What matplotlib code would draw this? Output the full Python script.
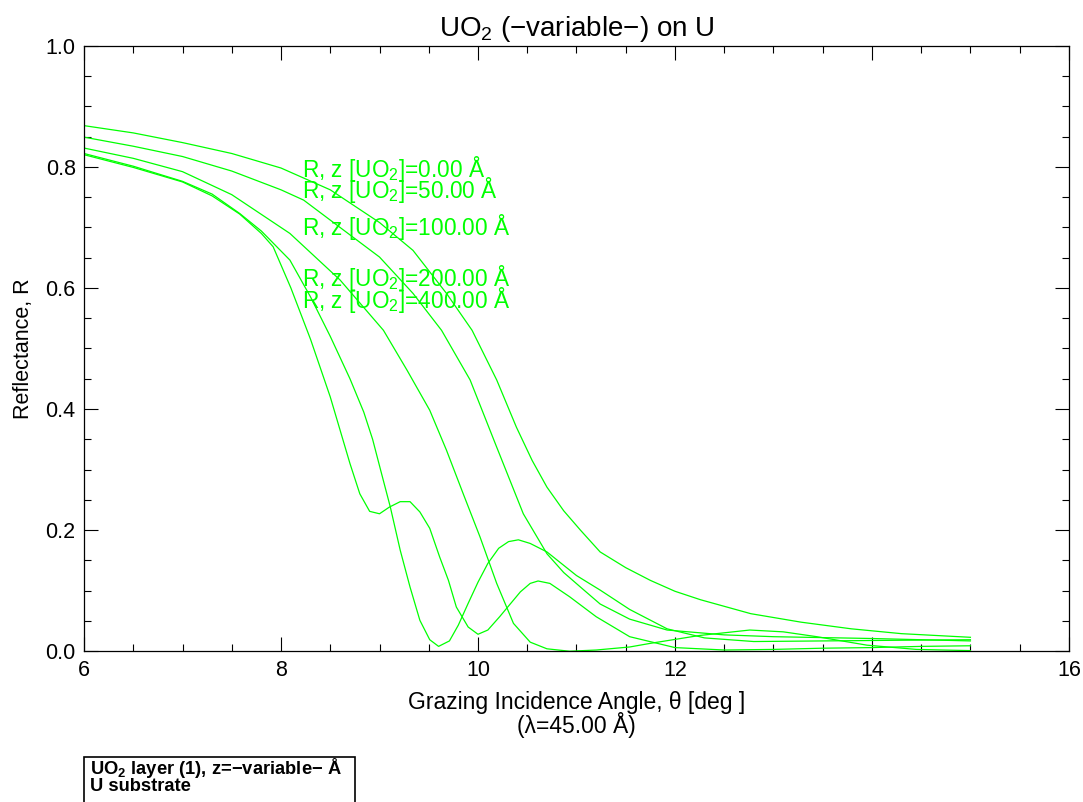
import matplotlib
matplotlib.use("Agg")
import matplotlib.pyplot as plt
from matplotlib.ticker import MultipleLocator, FormatStrFormatter
from matplotlib.patches import Rectangle

plt.rcParams['font.family'] = ['Liberation Sans', 'DejaVu Sans']
plt.rcParams['mathtext.fontset'] = 'custom'
plt.rcParams['mathtext.rm'] = 'Liberation Sans'
plt.rcParams['mathtext.bf'] = 'Liberation Sans:bold'

# reflectance curves (angle in deg, R)
x_z0 = [6.0, 6.5, 7.0, 7.5, 8.0, 8.5, 9.0, 9.34, 9.68, 9.94, 10.19, 10.39, 10.55, 10.7,
        10.87, 11.04, 11.24, 11.5, 11.75, 12.0, 12.26, 12.77, 13.28, 13.79, 14.3, 15.0]
r_z0 = [0.868, 0.856, 0.84, 0.822, 0.798, 0.762, 0.708, 0.662, 0.591, 0.53, 0.448, 0.37, 0.315, 0.271,
        0.232, 0.2, 0.164, 0.138, 0.117, 0.099, 0.085, 0.062, 0.048, 0.037, 0.029, 0.023]

x_z50 = [6.0, 6.5, 7.0, 7.5, 8.0, 8.23, 8.5, 9.0, 9.34, 9.63, 9.92, 10.19, 10.46, 10.7,
         10.87, 11.04, 11.24, 11.54, 11.92, 12.5, 13.0, 14.0, 15.0]
r_z50 = [0.849, 0.834, 0.817, 0.793, 0.762, 0.745, 0.712, 0.651, 0.591, 0.53, 0.448, 0.337, 0.227, 0.161,
         0.13, 0.106, 0.078, 0.053, 0.035, 0.027, 0.024, 0.021, 0.017]

x_z100 = [6.0, 6.5, 7.0, 7.5, 8.09, 8.6, 9.04, 9.28, 9.51, 9.68, 9.85, 10.02, 10.19,
          10.36, 10.53, 10.7, 10.93, 11.2, 11.54, 11.75, 12.25, 12.76, 13.1, 13.44,
          13.95, 14.45, 15.0]
r_z100 = [0.831, 0.814, 0.792, 0.754, 0.69, 0.613, 0.53, 0.464, 0.398, 0.332, 0.26, 0.189, 0.112,
          0.046, 0.015, 0.004, 0.0, 0.002, 0.007, 0.013, 0.026, 0.035, 0.032, 0.024,
          0.01, 0.003, 0.001]

x_z200 = [6.0, 6.5, 7.0, 7.3, 7.58, 7.8, 8.09, 8.3, 8.5, 8.7, 8.84, 8.93, 9.01, 9.11, 9.21, 9.31, 9.41,
          9.51, 9.6, 9.71, 9.8, 9.9, 10.0, 10.1, 10.21, 10.31, 10.41, 10.53, 10.7,
          11.0, 11.24, 11.54, 11.92, 12.3, 12.8, 13.5, 14.2, 15.0]
r_z200 = [0.822, 0.801, 0.776, 0.755, 0.723, 0.694, 0.646, 0.585, 0.52, 0.45, 0.395, 0.35, 0.30, 0.238,
          0.167, 0.106, 0.051,
          0.019, 0.008, 0.017, 0.043, 0.079, 0.114, 0.145, 0.17, 0.181, 0.184, 0.178, 0.164,
          0.125, 0.101, 0.069, 0.037, 0.022, 0.016, 0.017, 0.018, 0.019]

x_z400 = [6.0, 6.5, 7.0, 7.3, 7.58, 7.8, 7.92, 8.1, 8.3, 8.5, 8.6, 8.7, 8.8, 8.9, 9.0, 9.1, 9.21,
          9.31, 9.41, 9.51, 9.61, 9.7, 9.78, 9.9, 10.0, 10.1, 10.22, 10.43, 10.53, 10.61,
          10.73, 10.93, 11.2, 11.54, 12.0, 12.5, 13.0, 13.5, 14.0, 14.5, 15.0]
r_z400 = [0.82, 0.799, 0.775, 0.752, 0.722, 0.69, 0.668, 0.60, 0.515, 0.42, 0.365, 0.31, 0.26, 0.231,
          0.227, 0.238, 0.247,
          0.247, 0.23, 0.203, 0.156, 0.117, 0.073, 0.04, 0.028, 0.035, 0.057, 0.098, 0.112, 0.116,
          0.112, 0.09, 0.057, 0.024, 0.006, 0.002, 0.003, 0.005, 0.006, 0.008, 0.009]

labels = ["R, z [UO$_2$]=0.00 Å", "R, z [UO$_2$]=50.00 Å", "R, z [UO$_2$]=100.00 Å",
          "R, z [UO$_2$]=200.00 Å", "R, z [UO$_2$]=400.00 Å"]
label_y = [0.784, 0.748, 0.687, 0.603, 0.567]

green = '#00ff00'

fig = plt.figure(figsize=(10.83, 8.02), dpi=100)
ax = fig.add_axes([0.0776, 0.188, 0.9094, 0.755])

for xs, rs in [(x_z0, r_z0), (x_z50, r_z50), (x_z100, r_z100), (x_z200, r_z200), (x_z400, r_z400)]:
    ax.plot(xs, rs, color=green, lw=0.9)

for lab, yy in zip(labels, label_y):
    ax.text(8.21, yy, lab, color=green, fontsize=16.3, va='baseline', ha='left')

ax.set_xlim(6, 16)
ax.set_ylim(0, 1.0)
ax.xaxis.set_major_locator(MultipleLocator(2))
ax.xaxis.set_minor_locator(MultipleLocator(0.5))
ax.yaxis.set_major_locator(MultipleLocator(0.2))
ax.yaxis.set_minor_locator(MultipleLocator(0.05))
ax.xaxis.set_major_formatter(FormatStrFormatter('%d'))
ax.yaxis.set_major_formatter(FormatStrFormatter('%.1f'))
ax.tick_params(which='both', direction='in', top=True, right=True, labelsize=15.5, width=0.8)
ax.tick_params(which='major', length=10, pad=6)
ax.tick_params(which='minor', length=5)
for s in ax.spines.values():
    s.set_linewidth(0.9)

ax.set_title("UO$_2$ (\u2212variable\u2212) on U", fontsize=20, pad=7)
fig.text(0.5323, 1 - 709 / 802, "Grazing Incidence Angle, \u03b8 [deg ]", fontsize=16.5,
         ha='center', va='baseline')
fig.text(0.5323, 1 - 733 / 802, "(\u03bb=45.00 Å)", fontsize=16.5, ha='center', va='baseline')
ax.set_ylabel("Reflectance, R", fontsize=15.5, labelpad=8)

# layer description box at the bottom left
fig.add_artist(Rectangle((84 / 1083, -0.01), (355 - 84) / 1083, 1 - 757 / 802 + 0.01,
                         transform=fig.transFigure, fc='white', ec='black', lw=1.2))
fig.text(90 / 1083, 1 - 774 / 802, "UO$_\\mathbf{2}$ layer (1), z=\u2212variable\u2212 Å",
         fontsize=13.2, fontweight='bold', va='baseline', ha='left')
fig.text(90 / 1083, 1 - 791 / 802, "U substrate",
         fontsize=13.2, fontweight='bold', va='baseline', ha='left')

fig.savefig("out.png", dpi=100)
